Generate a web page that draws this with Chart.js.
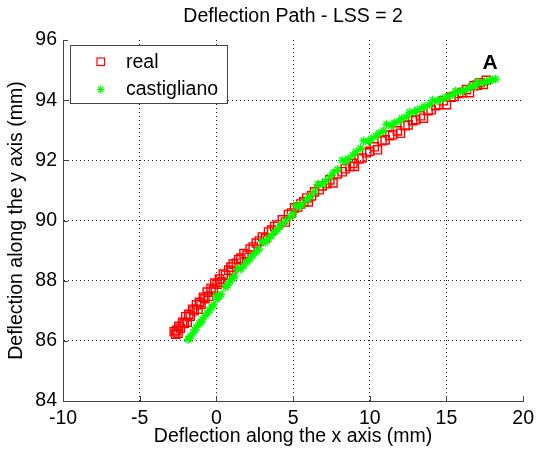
<!DOCTYPE html>
<html lang="en">
<head>
<meta charset="UTF-8">
<title>Deflection Path - LSS = 2</title>
<script src="https://cdn.jsdelivr.net/npm/chart.js@4"></script>
<style>
  body { margin: 0; background: #fff; }
  #wrap { width: 540px; height: 455px; }
</style>
</head>
<body>
<div id="wrap"><canvas id="myChart" width="540" height="455"></canvas></div>

<script>
// values (mm)
const realX = [-2.75, -2.6, -2.45, -2.2, -2.0, -1.8, -1.55, -1.3, -1.1, -0.85, -0.6, -0.35, -0.1, 0.2, 0.45, 0.8,
  1.1, 1.45, 1.8, 2.2, 2.6, 3.0, 3.4, 3.8, 4.3, 4.7, 5.1, 5.5, 5.9, 6.4, 6.9, 7.4, 7.9, 8.4, 8.9, 9.3,
  9.8, 10.3, 10.8, 11.3, 11.8, 12.3, 12.8, 13.3, 13.8, 14.3, 14.8, 15.3, 15.8, 16.3, 16.8, 17.2, 17.6,
  -2.5, -1.9, -1.2, -0.5, 0.3, 1.0, 2.0, 3.2, 4.5, 6.0, 7.6, 9.0, 10.5, 12.0, 13.5, 15.0, 16.5, 17.4,
  -2.65, -2.35, -2.1, -1.7, -1.45, -1.0, -0.75, -0.2, 0.05, 0.6, 0.95, 1.3, 1.6, 2.4, 2.8, 3.6, 4.0, 4.9,
  5.3, 5.7, 6.2, 6.7, 7.2, 8.2, 8.7, 9.5, 10.0, 11.0, 11.5, 12.5, 13.0, 14.0, 14.5, 15.5, 16.0, 17.0];
const realY = [86.30, 86.35, 86.48, 86.62, 86.80, 86.88, 87.05, 87.20, 87.28, 87.45, 87.62, 87.75, 87.92, 88.05, 88.22, 88.35,
  88.55, 88.70, 88.90, 89.05, 89.25, 89.45, 89.62, 89.80, 90.02, 90.20, 90.42, 90.55, 90.75, 90.95, 91.15, 91.35, 91.55, 91.72, 91.90, 92.05,
  92.25, 92.45, 92.65, 92.82, 92.98, 93.15, 93.32, 93.48, 93.65, 93.82, 93.98, 94.10, 94.22, 94.35, 94.48, 94.58, 94.66,
  86.25, 86.62, 87.05, 87.48, 87.95, 88.32, 88.85, 89.40, 89.95, 90.62, 91.25, 91.80, 92.35, 92.90, 93.40, 93.85, 94.25, 94.52,
  86.22, 86.42, 86.58, 86.82, 87.00, 87.22, 87.40, 87.70, 87.88, 88.18, 88.45, 88.58, 88.75, 89.12, 89.32, 89.68, 89.85, 90.25,
  90.45, 90.62, 90.82, 91.02, 91.22, 91.62, 91.80, 92.08, 92.30, 92.68, 92.85, 93.18, 93.35, 93.68, 93.85, 94.12, 94.25, 94.50];

const castX = [-1.85, -1.7, -1.5, -1.3, -1.1, -0.9, -0.7, -0.45, -0.2, 0.05, 0.3, 0.6, 0.9, 1.2, 1.6, 2.0, 2.4,
  2.8, 3.2, 3.6, 4.0, 4.5, 5.0, 5.4, 5.9, 6.4, 6.9, 7.4, 7.9, 8.4, 8.9, 9.4, 9.9, 10.4, 10.9, 11.4,
  11.9, 12.4, 12.9, 13.4, 13.9, 14.4, 14.9, 15.4, 15.9, 16.4, 16.9, 17.4, 17.8, 18.2,
  0.0, 1.4, 3.0, 5.2, 6.6, 8.2, 9.6, 11.1, 12.6, 14.1, 15.6, 17.0,
  -1.75, -1.4, -1.0, -0.6, -0.3, 0.2, 0.75, 1.05, 1.8, 2.2, 2.6, 3.4, 3.8, 4.2, 4.8, 5.6, 6.1,
  7.1, 7.6, 8.6, 9.1, 10.1, 10.6, 11.6, 12.1, 13.1, 13.6, 14.6, 15.1, 16.1, 16.6, 17.6, 18.0];
const castY = [86.05, 86.15, 86.28, 86.45, 86.58, 86.72, 86.85, 87.02, 87.20, 87.38, 87.55, 87.78, 87.98, 88.15, 88.38, 88.62, 88.85,
  89.05, 89.28, 89.50, 89.70, 89.98, 90.22, 90.45, 90.70, 90.95, 91.20, 91.45, 91.70, 91.95, 92.18, 92.40, 92.62, 92.80, 92.98, 93.15,
  93.30, 93.45, 93.60, 93.73, 93.85, 93.97, 94.08, 94.18, 94.28, 94.38, 94.48, 94.58, 94.65, 94.70,
  87.50, 88.40, 89.30, 90.50, 91.20, 92.00, 92.65, 93.20, 93.60, 94.00, 94.30, 94.60,
  86.08, 86.35, 86.62, 86.92, 87.12, 87.48, 87.85, 88.08, 88.50, 88.72, 88.95, 89.40, 89.62, 89.85, 90.12, 90.55, 90.80,
  91.30, 91.58, 92.05, 92.28, 92.72, 92.90, 93.25, 93.40, 93.68, 93.80, 94.02, 94.12, 94.32, 94.45, 94.62, 94.68];

const xTicks = [-10, -5, 0, 5, 10, 15, 20];
const yTicks = [84, 86, 88, 90, 92, 94, 96];
const seriesNames = ['real', 'castigliano'];

const FONT = 'Liberation Sans, Arial, Helvetica, sans-serif';

function pts(xs, ys) {
  return xs.map(function (x, i) { return {x: x, y: ys[i]}; });
}

// title, axis titles, legend box, point label, inward ticks
const decor = {
  id: 'decor',
  afterDraw: function (chart) {
    const c = chart.ctx;
    const a = chart.chartArea;
    const xs = chart.scales.x, ys = chart.scales.y;
    const cx = (a.left + a.right) / 2;
    c.save();
    // inward ticks
    c.strokeStyle = '#444';
    c.lineWidth = 1;
    c.beginPath();
    xTicks.forEach(function (v) {
      const px = Math.round(xs.getPixelForValue(v)) + 0.5;
      c.moveTo(px, a.bottom); c.lineTo(px, a.bottom - 5);
    });
    yTicks.forEach(function (v) {
      const py = Math.round(ys.getPixelForValue(v)) + 0.5;
      c.moveTo(a.left, py); c.lineTo(a.left + 5, py);
    });
    c.stroke();

    c.fillStyle = '#000';
    c.textAlign = 'center';
    c.textBaseline = 'middle';
    c.font = '19.5px ' + FONT;
    c.fillText('Deflection Path - LSS = 2', cx, 17);
    c.fillText('Deflection along the x axis (mm)', cx, 437);
    c.save();
    c.translate(17, (a.top + a.bottom) / 2);
    c.rotate(-Math.PI / 2);
    c.fillText('Deflection along the y axis (mm)', 0, 0);
    c.restore();

    // label at the end of the path
    c.font = 'bold 21px ' + FONT;
    c.fillText('A', 490, 63);

    // legend
    c.fillStyle = '#fff';
    c.fillRect(71, 46, 157, 57);
    c.strokeStyle = '#444';
    c.strokeRect(70.5, 45.5, 157, 58);
    c.strokeStyle = '#ff0000';
    c.lineWidth = 1.2;
    c.strokeRect(97, 58, 7.5, 7.5);
    c.strokeStyle = '#00ff00';
    c.beginPath();
    for (let k = 0; k < 4; k++) {
      const ang = k * Math.PI / 4;
      c.moveTo(100.7 - 4 * Math.cos(ang), 89.5 - 4 * Math.sin(ang));
      c.lineTo(100.7 + 4 * Math.cos(ang), 89.5 + 4 * Math.sin(ang));
    }
    c.stroke();
    c.fillStyle = '#000';
    c.textAlign = 'left';
    c.font = '19.5px ' + FONT;
    c.fillText(seriesNames[0], 126, 63);
    c.fillText(seriesNames[1], 126, 90);
    c.restore();
  }
};

const ctx = document.getElementById('myChart');
new Chart(ctx, {
  type: 'scatter',
  data: {
    datasets: [{
      label: seriesNames[0],
      data: pts(realX, realY),
      pointStyle: 'rect',
      pointRadius: 5.8,
      pointBorderWidth: 1.4,
      pointBorderColor: '#ff0000',
      pointBackgroundColor: 'rgba(0,0,0,0)',
      order: 1
    }, {
      label: seriesNames[1],
      data: pts(castX, castY),
      pointStyle: 'star',
      pointRadius: 4.3,
      pointBorderWidth: 1.4,
      pointBorderColor: '#00ff00',
      pointBackgroundColor: '#00ff00',
      order: 0
    }]
  },
  options: {
    responsive: false,
    animation: false,
    layout: { padding: { top: 40, right: 13, left: 0, bottom: 0 } },
    plugins: { legend: { display: false }, tooltip: { enabled: false }, title: { display: false } },
    scales: {
      x: {
        type: 'linear',
        min: -10, max: 20,
        afterFit: function (s) { s.height = 54; },
        afterBuildTicks: function (s) { s.ticks = xTicks.map(function (v) { return {value: v}; }); },
        ticks: { color: '#000', padding: 6, autoSkip: false, maxRotation: 0, font: { family: FONT, size: 19.5 } },
        grid: {
          drawTicks: false,
          color: function (c) { return (c.tick && (c.tick.value === -10 || c.tick.value === 20)) ? 'rgba(0,0,0,0)' : '#222'; }
        },
        border: { color: '#444', width: 1, dash: [1, 3] }
      },
      y: {
        type: 'linear',
        min: 84, max: 96,
        afterFit: function (s) { s.width = 63; },
        afterBuildTicks: function (s) { s.ticks = yTicks.map(function (v) { return {value: v}; }); },
        ticks: { color: '#000', padding: 6, font: { family: FONT, size: 19.5 } },
        grid: {
          drawTicks: false,
          color: function (c) { return (c.tick && (c.tick.value === 84 || c.tick.value === 96)) ? 'rgba(0,0,0,0)' : '#222'; }
        },
        border: { color: '#444', width: 1, dash: [1, 3] }
      }
    }
  },
  plugins: [decor]
});
</script>
</body>
</html>
